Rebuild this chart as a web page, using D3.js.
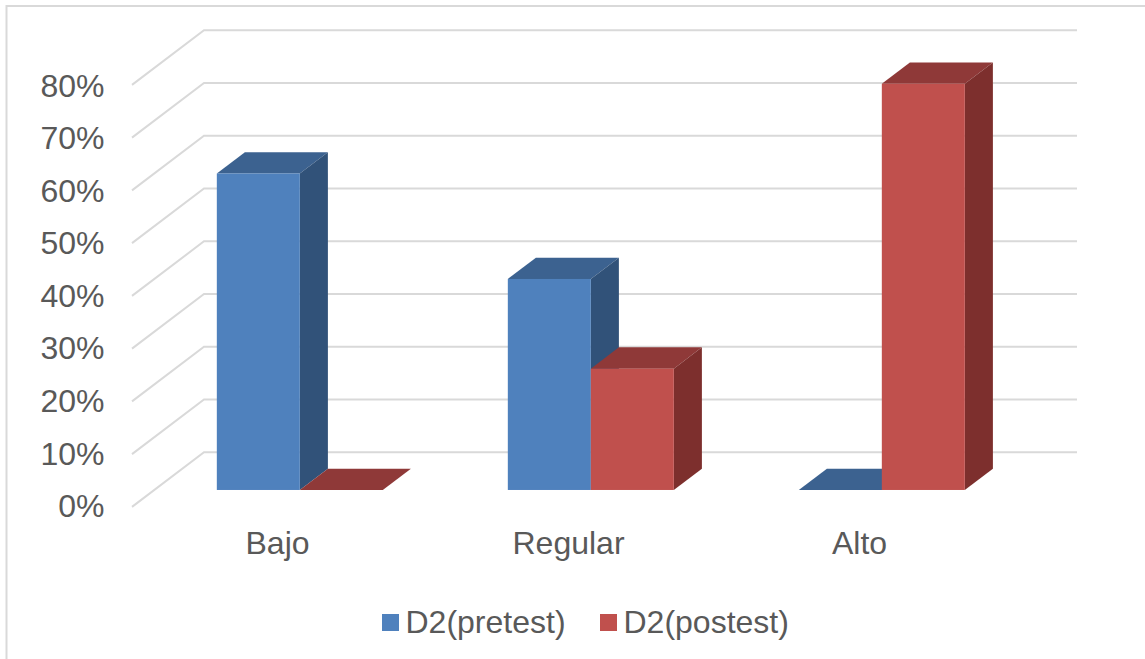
<!DOCTYPE html>
<html>
<head>
<meta charset="utf-8">
<script src="https://cdn.jsdelivr.net/npm/d3@7"></script>
<style>
  html, body { margin: 0; padding: 0; background: #fff; }
  svg { display: block; }
  text { font-family: "Liberation Sans", Arial, sans-serif; font-size: 32px; fill: #595959; }
</style>
</head>
<body>
<div id="chart"></div>
<script>
const categories = ["Bajo", "Regular", "Alto"];
const seriesNames = ["D2(pretest)", "D2(postest)"];
const pretest = [0.60, 0.40, 0];
const postest = [0, 0.23, 0.77];
const yTicks = [0, 0.1, 0.2, 0.3, 0.4, 0.5, 0.6, 0.7, 0.8];

const width = 1145;
const height = 659;

const colors = [
    { front: "#4f81bd", top: "#3c6290", side: "#315279" },
    { front: "#c0504d", top: "#8f3938", side: "#7d2f2d" }
];

const svg = d3.select("#chart")
    .append("svg")
    .attr("width", width)
    .attr("height", height);

// chart frame, right and bottom sides are cropped off in the picture
svg.append("path")
    .attr("d", `M6.5,${height} V6 H${width}`)
    .attr("fill", "none")
    .attr("stroke", "#d9d9d9")
    .attr("stroke-width", 2);

// front plane of the fake 3d box
const plot = { left: 132, right: 1005, bottom: 506.9, top: 84.9 };

const yScale = d3.scaleLinear().domain([0, 0.8]).range([plot.bottom, plot.top]);
const xScale = d3.scaleBand().domain(categories).range([plot.left, plot.right]);

// tick labels sit a touch tighter than the gridlines
const yLabelScale = d3.scaleLinear().domain([0, 0.8]).range([505.5, 84.8]);

// depth: 0 is the front plane, 1 the back wall
const depthX = d3.scaleLinear().domain([0, 1]).range([0, 72]);
const depthY = d3.scaleLinear().domain([0, 1]).range([0, -54.6]);
const project = (x, y, d) => [x + depthX(d), y + depthY(d)];

const gridLine = d3.line();

svg.selectAll(".grid")
    .data(yTicks)
    .enter()
    .append("path")
    .attr("class", "grid")
    .attr("d", d => gridLine([
        project(plot.left, yScale(d), 0),
        project(plot.left, yScale(d), 1),
        project(plot.right, yScale(d), 1)
    ]))
    .attr("fill", "none")
    .attr("stroke", "#d9d9d9")
    .attr("stroke-width", 2);

// bars sit between these two depths
const barFront = 0.31;
const barBack = 0.70;
const barWidth = 83;

const poly = pts => d3.line()(pts) + "Z";

[pretest, postest].forEach((values, s) => {
    const c = colors[s];
    const g = svg.append("g").attr("class", "series");

    values.forEach((v, i) => {
        const cx = xScale(categories[i]) + xScale.bandwidth() / 2;
        const x0 = cx - barWidth + s * barWidth;
        const x1 = x0 + barWidth;
        const y0 = yScale(0);
        const y1 = yScale(v);

        // top face
        g.append("path")
            .attr("d", poly([
                project(x0, y1, barFront),
                project(x1, y1, barFront),
                project(x1, y1, barBack),
                project(x0, y1, barBack)
            ]))
            .attr("fill", c.top);

        if (v > 0) {
            // side face
            g.append("path")
                .attr("d", poly([
                    project(x1, y1, barFront),
                    project(x1, y0, barFront),
                    project(x1, y0, barBack),
                    project(x1, y1, barBack)
                ]))
                .attr("fill", c.side);

            // front face
            const p = project(x0, y1, barFront);
            g.append("rect")
                .attr("x", p[0])
                .attr("y", p[1])
                .attr("width", barWidth)
                .attr("height", y0 - y1)
                .attr("fill", c.front);
        }
    });
});

const yAxis = d3.axisLeft(yLabelScale)
    .tickValues(yTicks)
    .tickFormat(d3.format(".0%"))
    .tickSize(0)
    .tickPadding(0);

svg.append("g")
    .attr("transform", "translate(104.5,0)")
    .call(yAxis)
    .call(g => g.select(".domain").remove())
    .selectAll("text")
    .attr("dy", "0.35em")
    .style("font-size", "32px")
    .style("font-family", '"Liberation Sans", Arial, sans-serif')
    .style("fill", "#595959");

const xAxis = d3.axisBottom(xScale).tickSize(0).tickPadding(0);

svg.append("g")
    .attr("transform", "translate(0,531.3)")
    .call(xAxis)
    .call(g => g.select(".domain").remove())
    .selectAll("text")
    .style("font-size", "32px")
    .style("font-family", '"Liberation Sans", Arial, sans-serif')
    .style("fill", "#595959");

// legend
const legendX = [382, 600];

const legend = svg.selectAll(".legend")
    .data(seriesNames)
    .enter()
    .append("g")
    .attr("class", "legend")
    .attr("transform", (d, i) => `translate(${legendX[i]},614)`);

legend.append("rect")
    .attr("width", 17)
    .attr("height", 17)
    .attr("fill", (d, i) => colors[i].front);

legend.append("text")
    .attr("x", 23.5)
    .attr("y", 18.5)
    .text(d => d);
</script>
</body>
</html>
